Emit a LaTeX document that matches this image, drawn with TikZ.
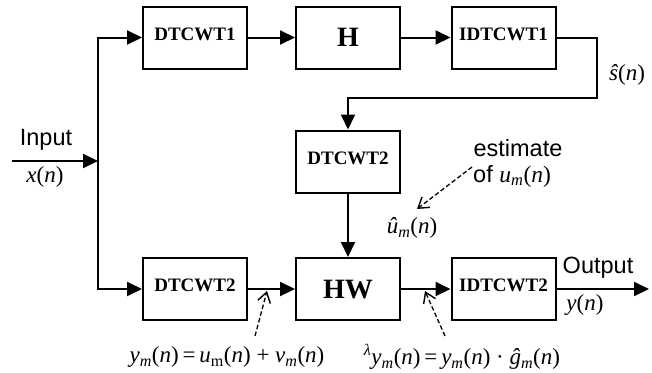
\documentclass[tikz,border=0pt]{standalone}
\usepackage{fontspec}
\setmainfont{Liberation Serif}
\newfontfamily\arialf{Liberation Sans}
\usetikzlibrary{arrows.meta}
\newcommand{\mi}[1]{\textit{#1}}
\newcommand{\sbm}{\textsubscript{\textit{m}}}
\tikzset{
  blk/.style={draw, line width=2pt, minimum width=104pt, minimum height=62pt, inner sep=0pt, text depth=7pt, font=\fontsize{19}{20}\selectfont\bfseries},
  bigblk/.style={blk, text depth=0pt, font=\fontsize{28}{30}\selectfont\bfseries},
  arr/.style={line width=2pt, -{Triangle[length=15pt,width=14pt]}},
  darr/.style={line width=1.3pt, dashed, dash pattern=on 4.5pt off 2.5pt, -{Straight Barb[length=10pt,width=13pt,line width=1.4pt]}},
  sanslbl/.style={font=\arialf\fontsize{23.5}{25}\selectfont, inner sep=0pt},
  mathlbl/.style={font=\fontsize{23}{25}\selectfont, inner sep=0pt}
}
\begin{document}
\begin{tikzpicture}[x=1pt,y=-1pt]
\useasboundingbox (0,0) rectangle (652,372);
\node[blk] (d1) at (195,37.5) {DTCWT1};
\node[bigblk] (h) at (348,37.5) {H};
\node[blk] (i1) at (503.5,37.5) {IDTCWT1};
\node[blk] (d2m) at (348,161.5) {DTCWT2};
\node[blk] (d2) at (195,289) {DTCWT2};
\node[bigblk] (hw) at (348,289) {HW};
\node[blk] (i2) at (503.5,289) {IDTCWT2};
\coordinate (in) at (12,161);
\coordinate (j) at (98,161);
\coordinate (c2) at (597,98);
\coordinate (out) at (649,289);
\draw[arr] (in) -- (j);
\draw[arr] (j) |- (d1.west);
\draw[arr] (j) |- (d2.west);
\draw[arr] (d1) -- (h);
\draw[arr] (h) -- (i1);
\draw[arr] (i1.east) -| (c2) -| (d2m.north);
\draw[arr] (d2m) -- (hw);
\draw[arr] (d2) -- (hw);
\draw[arr] (hw) -- (i2);
\draw[arr] (i2) -- (out);
\node[sanslbl] (inl) at (46,140) {Input};
\node[mathlbl] (xl) at (45,177) {\mi{x}(\mi{n})};
\node[mathlbl] (sl) at (627,75) {\mi{ŝ}(\mi{n})};
\node[sanslbl] (est) at (518,148) {estimate};
\node[sanslbl, anchor=west] (ofl) at (473,176) {of \textrm{\mi{u}\sbm(\mi{n})}};
\node[mathlbl] (uh) at (412,228) {\mi{û}\sbm(\mi{n})};
\node[sanslbl] (outl) at (598,268) {Output};
\node[mathlbl] (yl) at (585,305) {\mi{y}(\mi{n})};
\node[mathlbl] (eq1) at (227,357) {\mi{y}\sbm(\mi{n})\,=\,\mi{u}\textsubscript{m}(\mi{n}) + \mi{v}\sbm(\mi{n})};
\node[mathlbl] (eq2) at (462,357) {\textsuperscript{\mi{λ}}\mi{y}\sbm(\mi{n})\,=\,\mi{y}\sbm(\mi{n}) · \mi{ĝ}\sbm(\mi{n})};
\coordinate (a1s) at (472,167);
\coordinate (a1e) at (417,209);
\coordinate (a2s) at (255,336);
\coordinate (a2e) at (267,291);
\coordinate (a3s) at (445,336);
\coordinate (a3e) at (425,291);
\draw[darr] (a1s) -- (a1e);
\draw[darr] (a2s) -- (a2e);
\draw[darr] (a3s) -- (a3e);
\end{tikzpicture}
\end{document}
